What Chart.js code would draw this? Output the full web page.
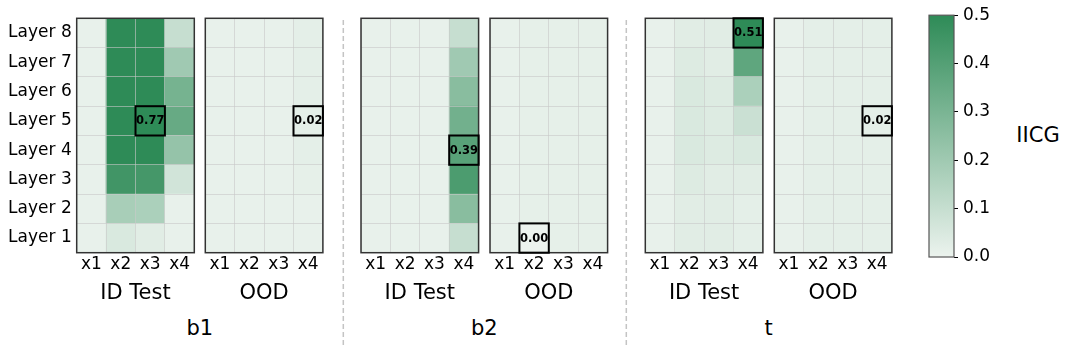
<!DOCTYPE html>
<html>
<head>
<meta charset="utf-8">
<script src="https://cdn.jsdelivr.net/npm/chart.js@4.4.1/dist/chart.umd.min.js"></script>
<style>
  body { margin: 0; background: #fff; }
  #wrap { position: relative; width: 1069px; height: 353px; overflow: hidden; font-family: "DejaVu Sans", sans-serif; }
  #wrap canvas { position: absolute; }
  .lbl { position: absolute; transform: translate(-50%, -50%); font-size: 21px; color: #000; white-space: nowrap; }
  #wrap svg { position: absolute; left: 0; top: 0; }
</style>
</head>
<body>
<div id="wrap"></div>
<script>
const layers = ["Layer 8", "Layer 7", "Layer 6", "Layer 5", "Layer 4", "Layer 3", "Layer 2", "Layer 1"];
const cols = ["x1", "x2", "x3", "x4"];
const groups = ["b1", "b2", "t"];
const splits = ["ID Test", "OOD"];

// IICG per panel, rows from Layer 8 (top) down to Layer 1, columns x1..x4
const b1Id = [
  [0.01, 0.62, 0.60, 0.10],
  [0.01, 0.68, 0.66, 0.20],
  [0.01, 0.72, 0.70, 0.31],
  [0.01, 0.74, 0.77, 0.35],
  [0.01, 0.70, 0.66, 0.23],
  [0.01, 0.45, 0.44, 0.07],
  [0.01, 0.18, 0.17, 0.01],
  [0.01, 0.05, 0.03, 0.01],
];
const b1Ood = [
  [0.01, 0.01, 0.01, 0.02],
  [0.01, 0.01, 0.01, 0.02],
  [0.01, 0.01, 0.01, 0.02],
  [0.01, 0.01, 0.01, 0.02],
  [0.01, 0.01, 0.01, 0.02],
  [0.01, 0.01, 0.01, 0.015],
  [0.01, 0.01, 0.01, 0.01],
  [0.01, 0.01, 0.01, 0.01],
];
const b2Id = [
  [0.01, 0.01, 0.01, 0.10],
  [0.01, 0.01, 0.01, 0.20],
  [0.01, 0.01, 0.01, 0.26],
  [0.01, 0.01, 0.01, 0.32],
  [0.01, 0.01, 0.01, 0.39],
  [0.01, 0.01, 0.01, 0.42],
  [0.01, 0.01, 0.01, 0.26],
  [0.01, 0.01, 0.01, 0.10],
];
const b2Ood = [
  [0.01, 0.015, 0.015, 0.015],
  [0.01, 0.015, 0.015, 0.015],
  [0.01, 0.015, 0.015, 0.015],
  [0.01, 0.015, 0.015, 0.015],
  [0.01, 0.015, 0.015, 0.015],
  [0.01, 0.015, 0.015, 0.015],
  [0.01, 0.015, 0.015, 0.015],
  [0.01, 0.00, 0.015, 0.015],
];
const tId = [
  [0.01, 0.03, 0.03, 0.51],
  [0.01, 0.04, 0.03, 0.37],
  [0.01, 0.05, 0.04, 0.17],
  [0.01, 0.05, 0.04, 0.09],
  [0.01, 0.05, 0.04, 0.05],
  [0.01, 0.04, 0.03, 0.03],
  [0.01, 0.03, 0.03, 0.02],
  [0.01, 0.03, 0.03, 0.02],
];
const tOod = [
  [0.01, 0.02, 0.02, 0.02],
  [0.01, 0.02, 0.02, 0.02],
  [0.01, 0.02, 0.02, 0.02],
  [0.01, 0.02, 0.02, 0.02],
  [0.01, 0.02, 0.02, 0.02],
  [0.01, 0.02, 0.02, 0.02],
  [0.01, 0.02, 0.02, 0.02],
  [0.01, 0.02, 0.02, 0.02],
];
// boxed cell per panel: [layer number, column index]
const marks = [[5, 2], [5, 3], [4, 3], [1, 1], [8, 3], [5, 3]];
const colorRange = [0, 0.5];

const panels = [b1Id, b1Ood, b2Id, b2Ood, tId, tOod];

// layout
const plotLeft = [76.7, 205.3, 361, 490, 645.3, 774.3];
const plotW = 117.6;
const plotTop = 18.3;
const plotBottom = 252.7;
const canvasH = 306;

const LIGHT = [236, 243, 238];
const DARK = [46, 139, 87];
function cmap(v) {
  let t = (v - colorRange[0]) / (colorRange[1] - colorRange[0]);
  t = Math.max(0, Math.min(1, t));
  const c = LIGHT.map((a, i) => Math.round(a + (DARK[i] - a) * t));
  return `rgb(${c[0]},${c[1]},${c[2]})`;
}

Chart.defaults.font.family = "DejaVu Sans";
Chart.defaults.color = "#000";

const wrap = document.getElementById("wrap");

const framePlugin = {
  id: "frame",
  afterDraw(chart) {
    const a = chart.chartArea;
    const ctx = chart.ctx;
    ctx.save();
    ctx.strokeStyle = chart.options.plugins.frame.color;
    ctx.lineWidth = chart.options.plugins.frame.width;
    ctx.strokeRect(a.left, a.top, a.right - a.left, a.bottom - a.top);
    ctx.restore();
  },
};

function markPlugin(rows, mark) {
  return {
    id: "mark",
    afterDraw(chart) {
      const [layer, col] = mark;
      const bar = chart.getDatasetMeta(layer - 1).data[col];
      const p = bar.getProps(["x", "y", "base", "width"], true);
      const value = rows[layers.indexOf("Layer " + layer)][col];
      const ctx = chart.ctx;
      ctx.save();
      ctx.strokeStyle = "#000";
      ctx.lineWidth = 2;
      ctx.strokeRect(p.x - p.width / 2, p.y, p.width, p.base - p.y);
      ctx.fillStyle = "#000";
      ctx.font = "bold 11.5px 'DejaVu Sans'";
      ctx.textAlign = "center";
      ctx.textBaseline = "middle";
      ctx.fillText(value.toFixed(2), p.x, (p.y + p.base) / 2 + 0.5);
      ctx.restore();
    },
  };
}

function makeCanvas(left, top, w, h) {
  const c = document.createElement("canvas");
  c.width = w;
  c.height = h;
  c.style.left = left + "px";
  c.style.top = top + "px";
  c.style.width = w + "px";
  c.style.height = h + "px";
  wrap.appendChild(c);
  return c;
}

const gridColor = "rgba(200,200,200,0.6)";

panels.forEach((rows, i) => {
  const first = i === 0;
  const canvasLeft = first ? 0 : Math.floor(plotLeft[i]) - 5;
  const canvasW = Math.ceil(plotLeft[i] + plotW) + 5 - canvasLeft;
  const padLeft = first ? 0 : plotLeft[i] - canvasLeft;
  const padRight = canvasLeft + canvasW - (plotLeft[i] + plotW);
  const yWidth = first ? plotLeft[i] : 0;
  const canvas = makeCanvas(canvasLeft, 0, canvasW, canvasH);

  // one dataset per layer, stacked from Layer 1 upwards
  const datasets = [];
  for (let r = layers.length - 1; r >= 0; r--) {
    datasets.push({
      label: layers[r],
      data: cols.map(() => 1),
      backgroundColor: rows[r].map(cmap),
      borderWidth: 0,
      barPercentage: 1,
      categoryPercentage: 1,
      yAxisID: "v",
    });
  }

  new Chart(canvas, {
    type: "bar",
    data: { labels: cols, datasets },
    options: {
      responsive: false,
      animation: false,
      layout: { padding: { left: padLeft, right: padRight, top: plotTop, bottom: 0 } },
      plugins: {
        legend: { display: false },
        tooltip: { enabled: false },
        frame: { color: "#333", width: 1.5 },
      },
      scales: {
        x: {
          type: "category",
          stacked: true,
          offset: true,
          grid: { offset: true, color: gridColor, drawTicks: false, z: 1 },
          border: { display: false },
          ticks: { font: { size: 17 }, padding: 2, maxRotation: 0 },
          title: { display: true, text: splits[i % 2], font: { size: 21 }, padding: 0 },
          afterFit: (s) => { s.height = canvasH - plotBottom; },
        },
        y: {
          type: "category",
          position: "left",
          labels: layers,
          offset: true,
          grid: { offset: true, color: gridColor, drawTicks: false, z: 1 },
          border: { display: false },
          ticks: { display: first, font: { size: 17 }, padding: 5 },
          afterFit: (s) => { s.width = yWidth; },
        },
        v: {
          type: "linear",
          display: false,
          stacked: true,
          min: 0,
          max: layers.length,
        },
      },
    },
    plugins: [framePlugin, markPlugin(rows, marks[i])],
  });
});

// colour bar
(function () {
  const cbLeft = 929, cbRight = 954, cbTop = 14.5, cbBottom = 257;
  const canvasLeft = 915, canvasW = 95, cH = 285;
  const canvas = makeCanvas(canvasLeft, 0, canvasW, cH);
  new Chart(canvas, {
    type: "bar",
    data: {
      labels: [""],
      datasets: [{
        data: [[colorRange[0], colorRange[1]]],
        borderWidth: 0,
        barPercentage: 1,
        categoryPercentage: 1,
        backgroundColor: (ctx) => {
          const a = ctx.chart.chartArea;
          if (!a) return cmap(colorRange[1]);
          const g = ctx.chart.ctx.createLinearGradient(0, a.bottom, 0, a.top);
          g.addColorStop(0, cmap(colorRange[0]));
          g.addColorStop(1, cmap(colorRange[1]));
          return g;
        },
      }],
    },
    options: {
      responsive: false,
      animation: false,
      layout: { padding: { left: cbLeft - canvasLeft, right: 0, top: cbTop, bottom: cH - cbBottom } },
      plugins: {
        legend: { display: false },
        tooltip: { enabled: false },
        frame: { color: "#555", width: 1.2 },
      },
      scales: {
        x: { type: "category", display: false, offset: true },
        y: {
          type: "linear",
          position: "right",
          min: colorRange[0],
          max: colorRange[1],
          grid: { drawOnChartArea: false, drawTicks: true, tickLength: 4, color: "#000", lineWidth: 1 },
          border: { display: false },
          ticks: { stepSize: 0.1, font: { size: 17 }, padding: 5, callback: (v) => v.toFixed(1) },
          afterFit: (s) => { s.width = canvasLeft + canvasW - cbRight; },
        },
      },
    },
    plugins: [framePlugin],
  });
})();

// text labels
function addLabel(text, x, y) {
  const d = document.createElement("div");
  d.className = "lbl";
  d.textContent = text;
  d.style.left = x + "px";
  d.style.top = y + "px";
  wrap.appendChild(d);
}
groups.forEach((g, k) => {
  const cx = (plotLeft[2 * k] + plotLeft[2 * k + 1] + plotW) / 2;
  addLabel(g, cx, 328);
});
addLabel("IICG", 1038, 135);

// dashed separators between groups
const svgNS = "http://www.w3.org/2000/svg";
const svg = document.createElementNS(svgNS, "svg");
svg.setAttribute("width", 1069);
svg.setAttribute("height", 353);
[343.3, 626.3].forEach((x) => {
  const l = document.createElementNS(svgNS, "line");
  l.setAttribute("x1", x);
  l.setAttribute("x2", x);
  l.setAttribute("y1", 20);
  l.setAttribute("y2", 345);
  l.setAttribute("stroke", "#c4c4c4");
  l.setAttribute("stroke-width", 1.5);
  l.setAttribute("stroke-dasharray", "5 3");
  svg.appendChild(l);
});
wrap.appendChild(svg);
</script>
</body>
</html>
